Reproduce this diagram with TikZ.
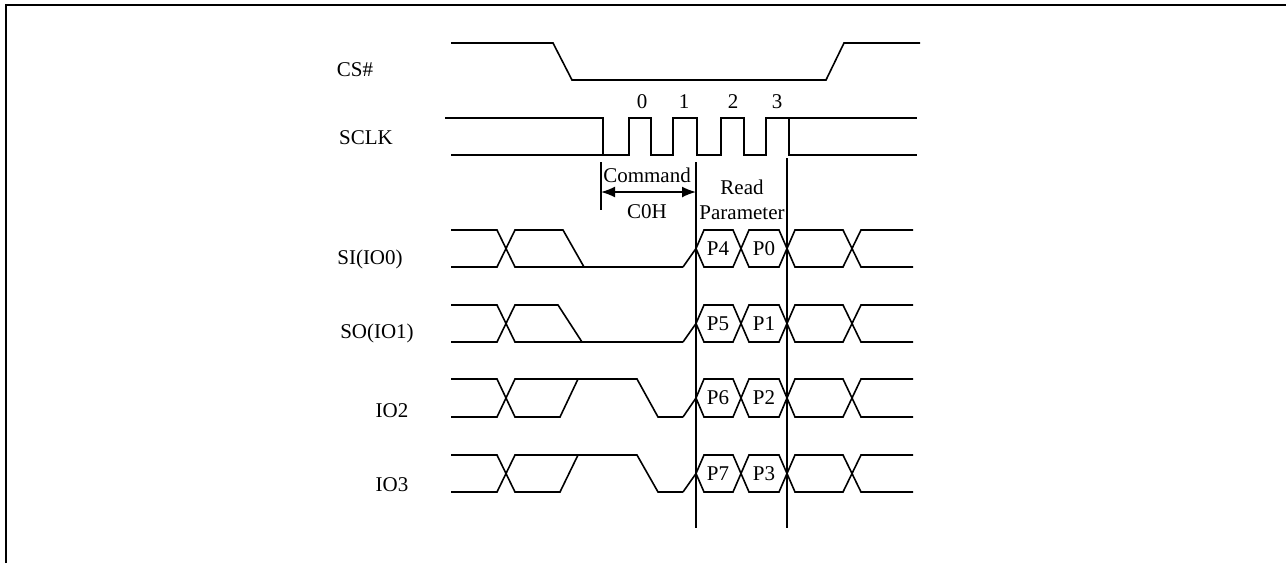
\documentclass[tikz,border=0pt]{standalone}
\usepackage{fontspec}
\setmainfont{Liberation Serif}
\usetikzlibrary{arrows.meta, positioning}

\begin{document}
\begin{tikzpicture}[
  x=1pt, y=-1pt,
  sig/.style={line width=1.6pt, line join=miter},
  lbl/.style={font=\fontsize{21}{24}\selectfont, inner sep=0pt},
  dimarrow/.style={line width=1.6pt,
    {Latex[length=14pt,width=11pt]}-{Latex[length=14pt,width=11pt]}}
]
  \useasboundingbox (0,0) rectangle (1286,563);

  % frame
  \draw[line width=2.4pt] (6,563) -- (6,5) -- (1286,5);

  % signal names
  \node[lbl] (cs)     at (355,70)  {CS\#};
  \node[lbl] (sclk)   at (366,138) {SCLK};
  \node[lbl] (si)     at (370,259) {SI(IO0)};
  \node[lbl] (so)     at (377,333) {SO(IO1)};
  \node[lbl] (iotwo)  at (392,411) {IO2};
  \node[lbl] (iothree) at (392,485) {IO3};

  % CS#
  \draw[sig] (451,43) -- (553,43) -- (572,80) -- (826,80) -- (844,43) -- (920,43);

  % SCLK
  \draw[sig] (445,118) -- (603,118) -- (603,155) -- (629,155) -- (629,118)
    -- (651,118) -- (651,155) -- (673,155) -- (673,118) -- (697,118)
    -- (697,155) -- (721,155) -- (721,118) -- (744,118) -- (744,155)
    -- (766,155) -- (766,118) -- (789,118) -- (789,155) -- (917,155);
  \draw[sig] (451,155) -- (603,155);
  \draw[sig] (789,118) -- (917,118);
  \foreach \k/\x in {0/642, 1/684, 2/733, 3/777}
    \node[lbl] (n\k) at (\x,102) {\k};

  % phase markers
  \coordinate (cmdtop) at (601,162);
  \coordinate (cmdbot) at (601,210);
  \coordinate (partop) at (696,162);
  \coordinate (parbot) at (696,528);
  \coordinate (endtop) at (787,158);
  \coordinate (endbot) at (787,528);
  \draw[sig] (cmdtop) -- (cmdbot);
  \draw[sig] (partop) -- (parbot);
  \draw[sig] (endtop) -- (endbot);
  \draw[dimarrow] (cmdtop |- 0,192) -- (partop |- 0,192);

  \node[lbl] (cmd)   at (647,175) {Command};
  \node[lbl] (coh)   at (647,212) {C0H};
  \node[lbl] (rd)    at (742,187) {Read};
  \node[lbl] (param) at (742,213) {Parameter};

  % SI / SO
  \foreach \H/\L/\fa/\fb in {230/267/563/584, 305/342/558/582} {
    \draw[sig] (451,\H) -- (497,\H) -- (515,\L) -- (683,\L);
    \draw[sig] (451,\L) -- (497,\L) -- (515,\H) -- (\fa,\H) -- (\fb,\L);
  }
  % IO2 / IO3
  \foreach \H/\L in {379/417, 455/492} {
    \draw[sig] (451,\H) -- (497,\H) -- (515,\L) -- (560,\L) -- (578,\H);
    \draw[sig] (451,\L) -- (497,\L) -- (515,\H) -- (637,\H) -- (658,\L) -- (683,\L);
  }

  % parameter bits
  \foreach \H/\L/\M/\a/\b in {230/267/248.5/4/0, 305/342/323.5/5/1,
                              379/417/398/6/2, 455/492/473.5/7/3} {
    \draw[sig] (683,\L) -- (696,\M) -- (704,\L) -- (733,\L) -- (749,\H)
      -- (779,\H) -- (795,\L) -- (843,\L) -- (861,\H) -- (913,\H);
    \draw[sig] (696,\M) -- (704,\H) -- (733,\H) -- (749,\L) -- (779,\L)
      -- (795,\H) -- (843,\H) -- (861,\L) -- (913,\L);
    \node[lbl] (p\a) at (718,\M) {P\a};
    \node[lbl] (p\b) at (764,\M) {P\b};
  }
\end{tikzpicture}
\end{document}
